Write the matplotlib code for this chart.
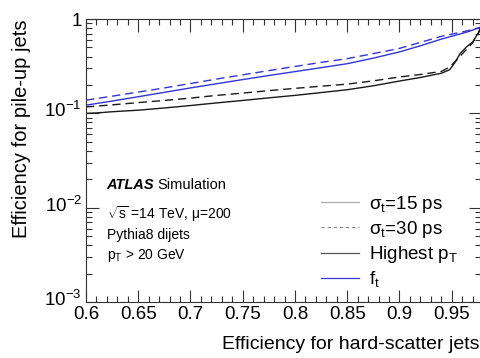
import matplotlib
matplotlib.use("Agg")
import matplotlib.pyplot as plt
from matplotlib.lines import Line2D
from matplotlib.ticker import MultipleLocator, LogLocator, NullFormatter
from matplotlib.transforms import ScaledTranslation

plt.rcParams['font.family'] = ['Liberation Sans', 'DejaVu Sans']
plt.rcParams['mathtext.fontset'] = 'custom'
plt.rcParams['mathtext.rm'] = 'Liberation Sans'
plt.rcParams['mathtext.it'] = 'Liberation Sans:italic'
plt.rcParams['mathtext.bf'] = 'Liberation Sans:bold'

# hard-scatter efficiency vs pile-up efficiency
eff_hs_ft = [0.6, 0.625, 0.65, 0.675, 0.7, 0.725, 0.75, 0.775, 0.8, 0.825, 0.85,
             0.875, 0.9, 0.92, 0.94, 0.955, 0.965, 0.978]
pu_ft_15 = [0.122, 0.135, 0.150, 0.167, 0.186, 0.206, 0.228, 0.252, 0.277, 0.305, 0.336,
            0.385, 0.448, 0.52, 0.612, 0.68, 0.73, 0.82]
pu_ft_30 = [0.138, 0.152, 0.168, 0.186, 0.207, 0.231, 0.256, 0.284, 0.314, 0.347, 0.380,
            0.43, 0.488, 0.565, 0.655, 0.71, 0.75, 0.82]

eff_hs_pt30 = [0.6, 0.625, 0.65, 0.675, 0.7, 0.725, 0.75, 0.775, 0.8, 0.825, 0.85,
               0.875, 0.9, 0.92, 0.94, 0.948, 0.955, 0.962, 0.97, 0.975, 0.978]
pu_pt_30 = [0.117, 0.123, 0.130, 0.137, 0.145, 0.155, 0.164, 0.174, 0.184, 0.194, 0.204,
            0.221, 0.243, 0.258, 0.278, 0.31, 0.37, 0.45, 0.56, 0.68, 0.82]

eff_hs_pt15 = [0.6, 0.61, 0.625, 0.65, 0.675, 0.7, 0.725, 0.75, 0.775, 0.8, 0.825, 0.85,
               0.875, 0.9, 0.92, 0.94, 0.948, 0.953, 0.958, 0.964, 0.97, 0.975, 0.978]
pu_pt_15 = [0.100, 0.101, 0.104, 0.108, 0.114, 0.121, 0.129, 0.137, 0.146, 0.155, 0.166, 0.178,
            0.196, 0.220, 0.240, 0.266, 0.29, 0.345, 0.43, 0.505, 0.57, 0.70, 0.83]

blue = '#3434d4'
black = '#1a1a1a'
dash = (0, (6, 3.5))

fig = plt.figure(figsize=(4.81, 3.58), dpi=100)
ax = fig.add_axes([0.1788, 0.1564, 0.8212, 0.7905])

ax.plot(eff_hs_pt15, pu_pt_15, color=black, lw=1.0)
ax.plot(eff_hs_pt30, pu_pt_30, color=black, lw=1.0, linestyle=dash)
ax.plot(eff_hs_ft, pu_ft_15, color=blue, lw=1.0)
ax.plot(eff_hs_ft, pu_ft_30, color=blue, lw=1.0, linestyle=dash)

ax.set_yscale('log')
ax.set_xlim(0.6, 0.978)
ax.set_ylim(1e-3, 1)

ax.set_xticks([0.6, 0.65, 0.7, 0.75, 0.8, 0.85, 0.9, 0.95])
ax.set_xticklabels(['0.6', '0.65', '0.7', '0.75', '0.8', '0.85', '0.9', '0.95'])
ax.xaxis.set_minor_locator(MultipleLocator(0.01))
ax.set_yticks([1e-3, 1e-2, 1e-1, 1])
ax.set_yticklabels([r'$10^{-3}$', r'$10^{-2}$', r'$10^{-1}$', '1'])
ax.yaxis.set_minor_locator(LogLocator(base=10, subs=range(2, 10)))
ax.yaxis.set_minor_formatter(NullFormatter())

ax.tick_params(which='both', direction='in', top=True, right=True, labelsize=13.5,
               width=0.8, color='#333333')
ax.tick_params(which='major', length=9, pad=3)
ax.tick_params(which='minor', length=4.5)
for s in ax.spines.values():
    s.set_linewidth(0.8)
    s.set_color('#333333')

# ROOT puts the "10" on the tick, exponent above it
shift = ScaledTranslation(0, 4 / 100, fig.dpi_scale_trans)
for lab in ax.get_yticklabels():
    if lab.get_text() != '1':
        lab.set_transform(lab.get_transform() + shift)

ax.set_xlabel('Efficiency for hard-scatter jets', loc='right', fontsize=14)
ax.xaxis.set_label_coords(0.996, -0.12)
ax.set_ylabel('Efficiency for pile-up jets', loc='top', fontsize=14.5)
ax.yaxis.set_label_coords(-0.14, 1.0)

tx = 0.052
ax.text(tx, 0.413, 'ATLAS', transform=ax.transAxes, fontsize=10.5,
        fontweight='bold', fontstyle='italic', va='center')
ax.text(tx + 0.128, 0.413, 'Simulation', transform=ax.transAxes, fontsize=10.5, va='center')
ax.text(tx, 0.311, r'$\sqrt{\mathrm{s}}$ =14 TeV, $\mathrm{\mu}$=200', transform=ax.transAxes,
        fontsize=10, va='center')
ax.text(tx, 0.237, 'Pythia8 dijets', transform=ax.transAxes, fontsize=10, va='center')
ax.text(tx, 0.166, r'p$_\mathrm{T}$ > 20 GeV', transform=ax.transAxes, fontsize=10, va='center')

handles = [
    Line2D([], [], color='#aaaaaa', lw=0.9),
    Line2D([], [], color='#888888', lw=0.8, linestyle=(0, (3, 2.5))),
    Line2D([], [], color='#555555', lw=0.9),
    Line2D([], [], color=blue, lw=0.9),
]
labels = [r'σ$_\mathrm{t}$=15 ps', r'σ$_\mathrm{t}$=30 ps', r'Highest p$_\mathrm{T}$',
          r'f$_\mathrm{t}$']
ax.legend(handles, labels, loc='lower left', bbox_to_anchor=(0.595, 0.045), frameon=False,
          fontsize=13.5, handlelength=2.0, handletextpad=0.55, labelspacing=0.22,
          borderpad=0.0, borderaxespad=0.0)

fig.savefig('out.png', dpi=100)
